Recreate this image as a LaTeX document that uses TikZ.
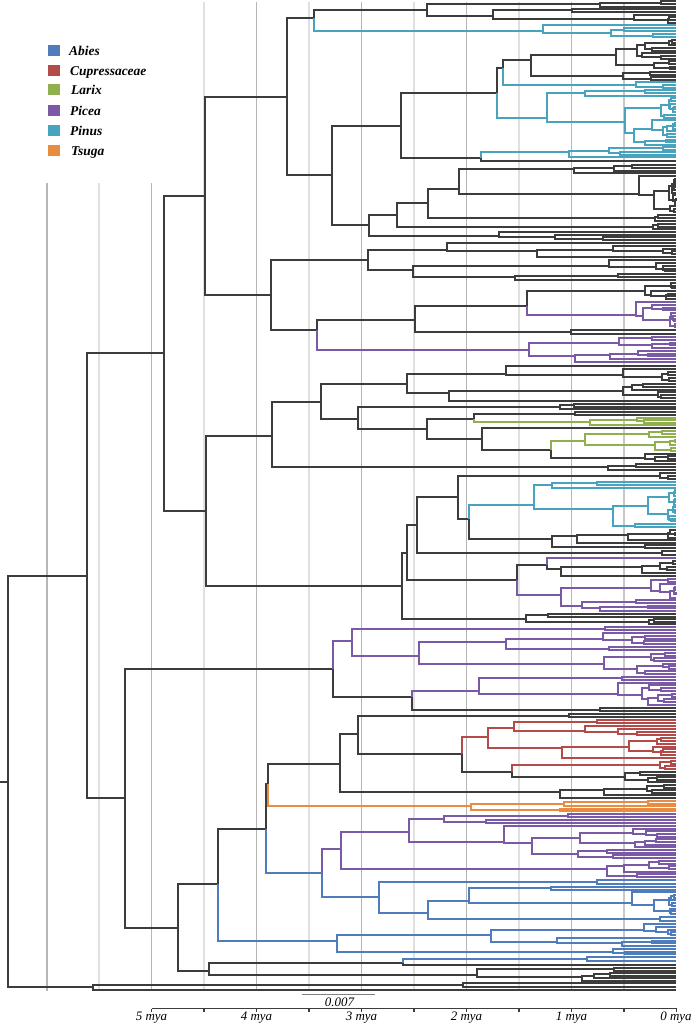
\documentclass[tikz,border=0pt]{standalone}
\usepackage{fontspec}
\setmainfont{Liberation Serif}
\definecolor{tb}{HTML}{3C3C3C}
\definecolor{abies}{HTML}{4E7CBC}
\definecolor{cupr}{HTML}{B44A4A}
\definecolor{larix}{HTML}{90B050}
\definecolor{picea}{HTML}{7A5AA6}
\definecolor{pinus}{HTML}{48A4BE}
\definecolor{tsuga}{HTML}{EA8C40}
\definecolor{gridd}{HTML}{B6B6B6}
\definecolor{gridm}{HTML}{C8C8C8}
\definecolor{gridl}{HTML}{E0E0E0}
\def\tipx{676}
\def\leafsp{2.75}
\tikzset{br/.style={line width=2bp},
  legtext/.style={anchor=base west,inner sep=0pt,font=\fontsize{13.5}{15}\selectfont\bfseries\itshape},
  axl/.style={anchor=base,inner sep=0pt,font=\fontsize{13}{14}\selectfont\itshape}}
\newcommand\rsubtree[5]{%
  \begingroup
  \edef\rpx{#1}\edef\rpy{#2}\edef\riz{#3}\edef\rnn{#4}\edef\rcol{#5}%
  \pgfmathtruncatemacro\rkk{1+floor(rnd*(\rnn-1))}%
  \pgfmathtruncatemacro\rmm{\rnn-\rkk}%
  \pgfmathtruncatemacro\rizb{\riz+\rkk}%
  \edef\rnext{\noexpand\rchildtree{\rpx}{\rpy}{\riz}{\rkk}{\rcol}%
    \noexpand\rchildtree{\rpx}{\rpy}{\rizb}{\rmm}{\rcol}}%
  \rnext
  \endgroup}
\newcommand\rchildtree[5]{%
  \begingroup
  \edef\rpx{#1}\edef\rpy{#2}\edef\riz{#3}\edef\rnn{#4}\edef\rcol{#5}%
  \ifnum\rnn=1
    \pgfmathsetmacro\ryy{round(\cladeY+\riz*\cladeD)}%
    \draw[br,draw=\rcol] (\rpx,\rpy) |- (\tipx,\ryy);%
  \else
    \pgfmathsetmacro\ryy{round(\cladeY+(\riz+(\rnn-1)/2)*\cladeD)}%
    \pgfmathsetmacro\rxx{round(\rpx+(\tipx-\rpx)*(0.12+0.72*rnd))}%
    \draw[br,draw=\rcol] (\rpx,\rpy) |- (\rxx,\ryy);%
    \edef\rnext{\noexpand\rsubtree{\rxx}{\ryy}{\riz}{\rnn}{\rcol}}%
    \rnext
  \fi
  \endgroup}
\newcommand\phyclade[6]{%
  \begingroup
  \pgfmathsetseed{#6}%
  \pgfmathtruncatemacro\cnn{max(1,round((#4-#3)/\leafsp)+1)}%
  \pgfmathsetmacro\cyy{round((#3+#4)/2)}%
  \ifnum\cnn=1
    \draw[br,draw=#5] (#1) |- (\tipx,\cyy);%
  \else
    \pgfmathsetmacro\cdd{(#4-#3)/(\cnn-1)}%
    \xdef\cladeY{#3}\xdef\cladeD{\cdd}%
    \draw[br,draw=#5] (#1) |- (#2,\cyy);%
    \edef\cnext{\noexpand\rsubtree{#2}{\cyy}{0}{\cnn}{#5}}\cnext
  \fi
  \endgroup}
\begin{document}
\begin{tikzpicture}[x=1bp,y=-1bp]
\useasboundingbox (0,0) rectangle (697,1027);
\fill[white] (0,0) rectangle (697,1027);
% grid lines
\foreach \gx/\gc/\gt in {47/gridd/183,99/gridl/183,151.5/gridd/183,204/gridl/2,256.5/gridd/2,309/gridl/2,361.5/gridd/2,414/gridl/2,466.5/gridd/2,519/gridl/2,571.5/gridd/2,624/gridm/2}
  \draw[line width=1.2bp,draw=\gc] (\gx,\gt) -- (\gx,991);
% legend
\fill[abies] (48,45) rectangle (60,56);
\fill[cupr] (48,65) rectangle (60,76);
\fill[larix] (48,84) rectangle (60,95);
\fill[picea] (48,105) rectangle (60,116);
\fill[pinus] (48,125) rectangle (60,136);
\fill[tsuga] (48,145) rectangle (60,156);
\node[legtext] (lg1) at (69,55.5) {Abies};
\node[legtext] (lg2) at (70,75.5) {Cupressaceae};
\node[legtext] (lg3) at (71,94.5) {Larix};
\node[legtext] (lg4) at (70,115.5) {Picea};
\node[legtext] (lg5) at (70,135.5) {Pinus};
\node[legtext] (lg6) at (71,155.5) {Tsuga};
% skeleton
\coordinate (R0) at (0,782);
\coordinate (R) at (8,782);
\coordinate (A) at (87,576);
\coordinate (Z) at (93,987);
\coordinate (B1) at (164,353);
\coordinate (B2) at (125,798);
\coordinate (C1) at (205,196);
\coordinate (C2) at (206,511);
\coordinate (D1) at (287,97);
\coordinate (D2) at (271,295);
\coordinate (E1) at (314,18);
\coordinate (E2) at (332,175);
\coordinate (F1) at (427,10);
\coordinate (G1) at (401,126);
\coordinate (G2) at (369,225);
\coordinate (J1) at (497,93);
\coordinate (J2) at (481,158);
\coordinate (K1) at (503,68);
\coordinate (H1) at (397,215);
\coordinate (L1) at (428,203);
\coordinate (I1) at (368,260);
\coordinate (I2) at (317,330);
\coordinate (M1) at (415,320);
\coordinate (M2) at (527,306);
\coordinate (N1) at (272,436);
\coordinate (N2) at (402,586);
\coordinate (S1) at (321,402);
\coordinate (S2) at (407,384);
\coordinate (S3) at (358,419);
\coordinate (S4) at (427,429);
\coordinate (S5) at (474,419);
\coordinate (S6) at (482,439);
\coordinate (S7) at (551,450);
\coordinate (O1) at (407,553);
\coordinate (T1) at (417,525);
\coordinate (T2) at (517,580);
\coordinate (T3) at (458,497);
\coordinate (T4) at (469,519);
\coordinate (T5) at (547,565);
\coordinate (P1) at (333,669);
\coordinate (P2) at (178,928);
\coordinate (U1) at (352,641);
\coordinate (U2) at (412,697);
\coordinate (U3) at (419,656);
\coordinate (V1) at (218,884);
\coordinate (V2) at (209,971);
\coordinate (Q1) at (266,829);
\coordinate (Q2) at (268,784);
\coordinate (Q3) at (322,873);
\coordinate (Q4) at (340,764);
\coordinate (Q5) at (358,734);
\coordinate (Q6) at (462,754);
\coordinate (Q7) at (488,737);
\coordinate (Q8) at (512,772);
\coordinate (X1) at (341,849);
\coordinate (X2) at (379,897);
\coordinate (X3) at (409,832);
\coordinate (X4) at (428,913);
\coordinate (W1) at (337,941);
\coordinate (Y1) at (403,963);
\draw[br,draw=tb] (R0) -- (R);
\foreach \pa/\ch in {R/A,R/Z,A/B1,A/B2,B1/C1,B1/C2,C1/D1,C1/D2,D1/E1,D1/E2,E1/F1,E2/G1,E2/G2,G1/J1,G1/J2,J1/K1,G2/H1,H1/L1,D2/I1,D2/I2,I2/M1,M1/M2,C2/N1,C2/N2,N1/S1,S1/S2,S1/S3,S3/S4,S4/S5,S4/S6,S6/S7,N2/O1,O1/T1,O1/T2,T1/T3,T3/T4,T2/T5,B2/P1,B2/P2,P1/U2,P2/V1,P2/V2,V1/Q1,Q1/Q2,Q2/Q4,Q4/Q5,Q5/Q6,Q6/Q8,V2/Y1}
  \draw[br,draw=tb] (\pa) |- (\ch);
\foreach \pa/\ch in {P1/U1,U1/U3,Q3/X1,X1/X3}
  \draw[br,draw=picea] (\pa) |- (\ch);
\foreach \pa/\ch in {V1/W1,Q1/Q3,Q3/X2,X2/X4}
  \draw[br,draw=abies] (\pa) |- (\ch);
\draw[br,draw=cupr] (Q6) |- (Q7);
% terminal clades
\phyclade{F1}{600}{1}{7}{tb}{11}
\phyclade{F1}{493}{9}{23}{tb}{12}
\phyclade{E1}{543}{25}{37}{pinus}{13}
\phyclade{K1}{531}{40}{80}{tb}{14}
\phyclade{K1}{636}{82}{88}{pinus}{15}
\phyclade{J1}{547}{90}{145}{pinus}{16}
\phyclade{J2}{569}{147}{157}{pinus}{17}
\phyclade{J2}{0}{161}{161}{tb}{18}
\phyclade{L1}{459}{165}{212}{tb}{19}
\phyclade{L1}{655}{215}{221}{tb}{20}
\phyclade{H1}{653}{224}{229}{tb}{21}
\phyclade{G2}{499}{232}{240}{tb}{22}
\phyclade{I1}{447}{243}{257}{tb}{23}
\phyclade{I1}{413}{260}{280}{tb}{24}
\phyclade{M2}{645}{283}{299}{tb}{25}
\phyclade{M2}{636}{302}{327}{picea}{26}
\phyclade{M1}{571}{330}{334}{tb}{27}
\phyclade{I2}{529}{337}{362}{picea}{28}
\phyclade{S2}{506}{366}{381}{tb}{29}
\phyclade{S2}{449}{384}{401}{tb}{30}
\phyclade{S3}{560}{404}{409}{tb}{31}
\phyclade{S5}{575}{412}{415}{tb}{32}
\phyclade{S5}{590}{418}{425}{larix}{33}
\phyclade{S6}{0}{428}{428}{tb}{34}
\phyclade{S7}{585}{431}{451}{larix}{35}
\phyclade{S7}{645}{454}{461}{tb}{36}
\phyclade{N1}{608}{464}{470}{tb}{37}
\phyclade{T3}{660}{473}{479}{tb}{38}
\phyclade{T4}{534}{482}{527}{pinus}{39}
\phyclade{T4}{552}{530}{548}{tb}{40}
\phyclade{T1}{662}{551}{555}{tb}{41}
\phyclade{T5}{0}{558}{558}{picea}{42}
\phyclade{T5}{561}{561}{576}{tb}{43}
\phyclade{T2}{561}{579}{611}{picea}{44}
\phyclade{N2}{526}{614}{624}{tb}{45}
\phyclade{U1}{605}{627}{630}{picea}{46}
\phyclade{U3}{506}{633}{650}{picea}{47}
\phyclade{U3}{604}{653}{674}{picea}{48}
\phyclade{U2}{479}{677}{705}{picea}{49}
\phyclade{U2}{600}{708}{711}{tb}{50}
\phyclade{Q5}{569}{714}{717}{tb}{51}
\phyclade{Q7}{514}{720}{735}{cupr}{52}
\phyclade{Q7}{562}{738}{758}{cupr}{53}
\phyclade{Q8}{660}{761}{769}{cupr}{54}
\phyclade{Q8}{625}{772}{782}{tb}{55}
\phyclade{Q4}{560}{785}{798}{tb}{56}
\phyclade{Q2}{471}{801}{811}{tsuga}{57}
\phyclade{X3}{444}{814}{823}{picea}{58}
\phyclade{X3}{504}{826}{858}{picea}{59}
\phyclade{X1}{607}{861}{877}{picea}{60}
\phyclade{X2}{597}{880}{884}{abies}{61}
\phyclade{X4}{469}{887}{914}{abies}{62}
\phyclade{X4}{660}{917}{921}{abies}{63}
\phyclade{W1}{491}{924}{946}{abies}{64}
\phyclade{W1}{613}{949}{954}{abies}{65}
\phyclade{Y1}{587}{957}{961}{abies}{66}
\phyclade{Y1}{0}{965}{965}{tb}{67}
\phyclade{V2}{477}{968}{981}{tb}{68}
\phyclade{Z}{463}{983}{987}{tb}{69}
\phyclade{Z}{0}{990}{990}{tb}{70}
% scale bar
\coordinate (sb1) at (302,994.5);
\coordinate (sb2) at (375,994.5);
\draw[line width=1.3bp,draw=gray] (sb1) -- (sb2);
\node[axl] (sbl) at (339.5,1006) {0.007};
% time axis
\coordinate (ax1) at (151.5,1008.5);
\coordinate (ax2) at (676.5,1008.5);
\draw[line width=1.2bp,draw=tb] (ax1) -- (ax2);
\foreach \tx in {151.5,204,256.5,309,361.5,414,466.5,519,571.5,624,676.5}
  \draw[line width=1.2bp,draw=tb] (\tx,1008.5) -- (\tx,1012);
\node[axl] (t5) at (151.5,1020) {5 mya};
\node[axl] (t4) at (256.5,1020) {4 mya};
\node[axl] (t3) at (361.5,1020) {3 mya};
\node[axl] (t2) at (466.5,1020) {2 mya};
\node[axl] (t1) at (571.5,1020) {1 mya};
\node[axl] (t0) at (676,1020) {0 mya};
\end{tikzpicture}
\end{document}
